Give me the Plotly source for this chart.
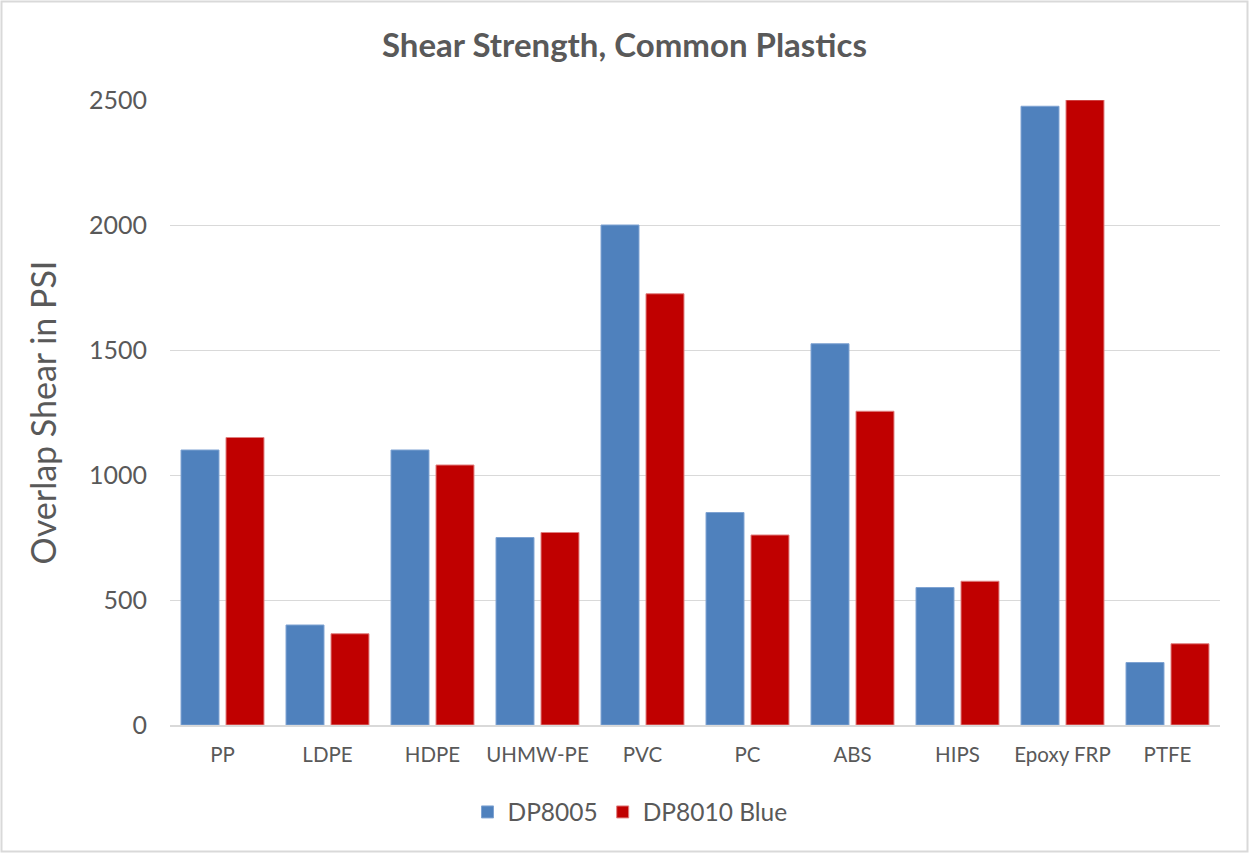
import plotly.graph_objects as go

categories = ["PP", "LDPE", "HDPE", "UHMW-PE", "PVC", "PC", "ABS", "HIPS", "Epoxy FRP", "PTFE"]
dp8005 = [1100, 400, 1100, 750, 2000, 850, 1525, 550, 2475, 250]
dp8010_blue = [1150, 365, 1040, 770, 1725, 760, 1255, 575, 2500, 325]
y_ticks = [0, 500, 1000, 1500, 2000, 2500]

FONT = "Lato"
GRAY = "#595959"
W, H = 1249, 853
ML, MR, MT, MB = 170, 29, 100, 128
PW, PH = W - ML - MR, H - MT - MB

fig = go.Figure()
fig.add_trace(go.Bar(x=categories, y=dp8005, name="DP8005",
                     marker=dict(color="#4F81BD", line=dict(color="#7FA3D2", width=1))))
fig.add_trace(go.Bar(x=categories, y=dp8010_blue, name="DP8010 Blue",
                     marker=dict(color="#C00000", line=dict(color="#E08080", width=1))))

fig.update_layout(
    width=W, height=H,
    paper_bgcolor="white", plot_bgcolor="white",
    margin=dict(l=ML, r=MR, t=MT, b=MB),
    barmode="group", bargap=0.143, bargroupgap=0.156,
    title=dict(text="<b>Shear Strength, Common Plastics</b>", x=0.5, xanchor="center",
               y=1 - 45 / H, yanchor="middle", font=dict(family=FONT, size=33, color=GRAY)),
    font=dict(family=FONT, color=GRAY),
    legend=dict(orientation="h", x=(630 - ML) / PW, xanchor="center", y=-87 / PH, yanchor="middle",
                font=dict(family=FONT, size=24.5, color=GRAY), bgcolor="rgba(0,0,0,0)",
                traceorder="normal"),
    xaxis=dict(showgrid=False, showline=True, linecolor="#D9D9D9", linewidth=1.5,
               tickfont=dict(family=FONT, size=20.5, color=GRAY), ticks="", ticklabelstandoff=11),
    yaxis=dict(range=[0, 2500], tickvals=y_ticks, showgrid=True, gridcolor="#D9D9D9",
               gridwidth=1.3, zeroline=False, ticks="", ticklabelstandoff=22,
               tickfont=dict(family=FONT, size=25, color=GRAY),
               title=dict(text="Overlap Shear in PSI", standoff=22,
                          font=dict(family=FONT, size=34, color=GRAY))),
    shapes=[dict(type="rect", xref="paper", yref="paper",
                 x0=-(ML - 1.5) / PW, x1=1 + (MR - 1.5) / PW,
                 y0=-(MB - 1.5) / PH, y1=1 + (MT - 1.5) / PH,
                 line=dict(color="#D9D9D9", width=2), fillcolor="rgba(0,0,0,0)", layer="below")],
)

fig.write_html("out.html", config={"displayModeBar": False},
               post_script="document.body.style.margin='0';document.body.style.overflow='hidden';")
